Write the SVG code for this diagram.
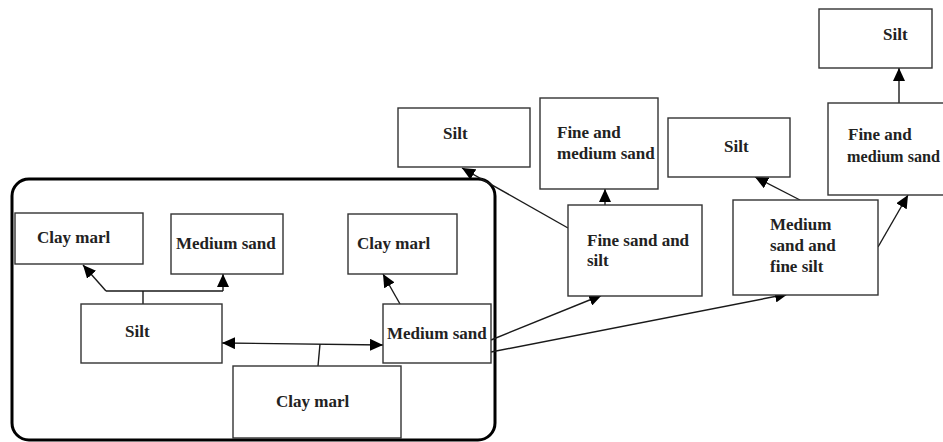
<svg xmlns="http://www.w3.org/2000/svg" width="943" height="442" viewBox="0 0 943 442">
  <style>
    .box { fill: #ffffff; stroke: #333333; stroke-width: 1.4; }
    .lbl { font-family: "Liberation Serif", "Times New Roman", serif; font-weight: bold; font-size: 17px; fill: #222222; }
    .link { fill: none; stroke: #1a1a1a; stroke-width: 1.4; }
    .frame { fill: none; stroke: #000000; stroke-width: 3; }
  </style>
  <defs>
    <marker id="head" viewBox="0 0 13 12" refX="13" refY="6" markerWidth="13" markerHeight="12" markerUnits="userSpaceOnUse" orient="auto-start-reverse">
      <path d="M0,0 L13,6 L0,12 z" fill="#000000"/>
    </marker>
  </defs>
  <rect width="943" height="442" fill="#ffffff"/>

  <!-- grouping frame around the lower-left sequence -->
  <rect class="frame" x="12" y="179" width="483" height="261" rx="17"/>

  <!-- connectors -->
  <g id="connectors">
    <path class="link" d="M143,304 V291 M106,291 H223"/>
    <path class="link" d="M106,291 L83,265" marker-end="url(#head)"/>
    <path class="link" d="M223,291 V274" marker-end="url(#head)"/>
    <path class="link" d="M400,304 L383,274" marker-end="url(#head)"/>
    <path class="link" d="M222,343 L383,345" marker-start="url(#head)" marker-end="url(#head)"/>
    <path class="link" d="M318,366 L320,344"/>
    <path class="link" d="M568,228 L462,168" marker-end="url(#head)"/>
    <path class="link" d="M605,205 V189" marker-end="url(#head)"/>
    <path class="link" d="M491,340 L602,295" marker-end="url(#head)"/>
    <path class="link" d="M491,352 L788,294" marker-end="url(#head)"/>
    <path class="link" d="M800,200 L755,177" marker-end="url(#head)"/>
    <path class="link" d="M878,247 L908,195" marker-end="url(#head)"/>
    <path class="link" d="M899,103 V68" marker-end="url(#head)"/>
  </g>

  <!-- nodes inside the frame -->
  <g id="n-claymarl-left">
    <rect class="box" x="15" y="213" width="128" height="51"/>
    <text class="lbl" x="37" y="243">Clay marl</text>
  </g>
  <g id="n-mediumsand-top">
    <rect class="box" x="171" y="214" width="112" height="60"/>
    <text class="lbl" x="176" y="249">Medium sand</text>
  </g>
  <g id="n-claymarl-right">
    <rect class="box" x="348" y="214" width="109" height="60"/>
    <text class="lbl" x="357" y="249">Clay marl</text>
  </g>
  <g id="n-silt-base">
    <rect class="box" x="81" y="304" width="141" height="59"/>
    <text class="lbl" x="125" y="337">Silt</text>
  </g>
  <g id="n-mediumsand-base">
    <rect class="box" x="383" y="304" width="108" height="59"/>
    <text class="lbl" x="387" y="339">Medium sand</text>
  </g>
  <g id="n-claymarl-bottom">
    <rect class="box" x="233" y="366" width="168" height="72"/>
    <text class="lbl" x="276" y="407">Clay marl</text>
  </g>

  <!-- upper branch from fine sand and silt -->
  <g id="n-silt-a">
    <rect class="box" x="398" y="108" width="132" height="59"/>
    <text class="lbl" x="443" y="139">Silt</text>
  </g>
  <g id="n-finemedium-a">
    <rect class="box" x="540" y="98" width="118" height="91"/>
    <text class="lbl" x="557" y="138">Fine and</text>
    <text class="lbl" x="557" y="159">medium sand</text>
  </g>
  <g id="n-finesandsilt">
    <rect class="box" x="568" y="205" width="134" height="91"/>
    <text class="lbl" x="587" y="246">Fine sand and</text>
    <text class="lbl" x="587" y="266">silt</text>
  </g>

  <!-- upper branch from medium sand and fine silt -->
  <g id="n-silt-b">
    <rect class="box" x="668" y="118" width="122" height="59"/>
    <text class="lbl" x="724" y="152">Silt</text>
  </g>
  <g id="n-mediumfine">
    <rect class="box" x="733" y="200" width="145" height="95"/>
    <text class="lbl" x="770" y="230">Medium</text>
    <text class="lbl" x="770" y="251">sand and</text>
    <text class="lbl" x="770" y="272">fine silt</text>
  </g>
  <g id="n-finemedium-b">
    <rect class="box" x="828" y="103" width="118" height="92"/>
    <text class="lbl" x="848" y="140">Fine and</text>
    <text class="lbl" x="847" y="162" textLength="93" lengthAdjust="spacingAndGlyphs">medium sand</text>
  </g>
  <g id="n-silt-top">
    <rect class="box" x="819" y="9" width="113" height="59"/>
    <text class="lbl" x="883" y="40">Silt</text>
  </g>
</svg>
